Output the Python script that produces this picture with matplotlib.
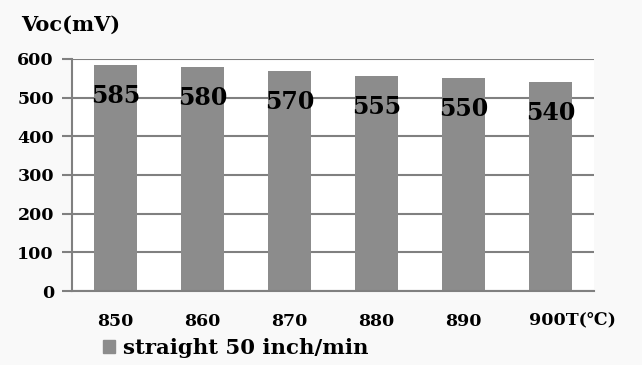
import matplotlib.pyplot as plt
from matplotlib.patches import Rectangle

temps = ['850', '860', '870', '880', '890', '900']
voc = [585, 580, 570, 555, 550, 540]
series_name = 'straight 50 inch/min'
x_unit = 'T(\u2103)'

plt.rcParams['font.family'] = ['DejaVu Serif', 'DejaVu Sans']
plt.rcParams['font.weight'] = 'bold'

fig = plt.figure(figsize=(6.42, 3.65), dpi=100, facecolor='#f9f9f9')
ax = fig.add_axes([72 / 642, 1 - 291 / 365, (594 - 72) / 642, (291 - 59) / 365])
ax.set_facecolor('white')

x = list(range(len(temps)))
ax.bar(x, voc, width=0.5, color='#8c8c8c', zorder=2)

# value labels sit inside the top of each bar
for i, v in zip(x, voc):
    ax.annotate(str(v), (i, v), xytext=(0, -31), textcoords='offset pixels',
                ha='center', va='center', fontsize=17, fontweight='bold',
                color='black', zorder=3)

ax.set_xlim(-0.5, len(temps) - 0.5)
ax.set_ylim(0, 600)
ax.set_yticks(range(0, 601, 100))
ax.yaxis.grid(True, color='#808080', linewidth=1.5, zorder=1)
ax.set_axisbelow(True)

# last category carries the axis unit, so it is drawn as its own text
ax.set_xticks(x)
ax.set_xticklabels(temps[:-1] + [''])
ax.annotate(temps[-1] + x_unit, xy=(x[-1], 0), xycoords=('data', 'axes fraction'),
            xytext=(-21, -29), textcoords='offset pixels', ha='left', va='center',
            fontsize=12.5, fontweight='bold')
ax.tick_params(axis='x', length=0, pad=15.5, labelsize=12.5)
ax.tick_params(axis='y', length=7, width=1.5, color='#808080', pad=6, labelsize=12.5)

for side in ['top', 'right']:
    ax.spines[side].set_visible(False)
for side in ['left', 'bottom']:
    ax.spines[side].set_color('#808080')
    ax.spines[side].set_linewidth(1.5)

fig.text(21 / 642, 1 - 25 / 365, 'Voc(mV)', fontsize=15, fontweight='bold', va='center')

handle = Rectangle((0, 0), 1, 1, color='#8c8c8c')
fig.legend([handle], [series_name], loc='center left',
           bbox_to_anchor=(103 / 642, 1 - 348 / 365), frameon=False,
           prop={'size': 15.3, 'weight': 'bold'}, handlelength=0.55, handleheight=0.55,
           handletextpad=0.4, borderaxespad=0, borderpad=0)

fig.savefig('out.png', dpi=100, facecolor=fig.get_facecolor())
